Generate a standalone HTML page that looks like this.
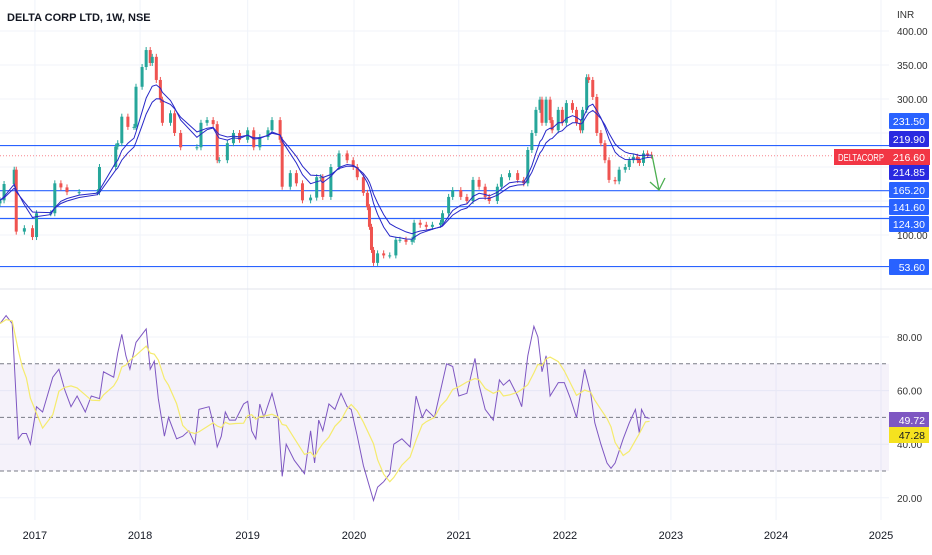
<!DOCTYPE html>
<html><head><meta charset="utf-8">
<style>
html,body{margin:0;padding:0;background:#fff;}
body{width:932px;height:550px;overflow:hidden;font-family:"Liberation Sans",sans-serif;}
svg text{font-family:"Liberation Sans",sans-serif;}
</style></head>
<body>
<svg id="chart" width="932" height="550" viewBox="0 0 932 550" xmlns="http://www.w3.org/2000/svg">
<g id="grid"></g>
<g id="levels"></g>
<g id="candles"></g>
<g id="mas"></g>
<g id="rsi"></g>
<g id="axis"></g>
<text x="7" y="21" font-size="11" font-weight="bold" fill="#131722">DELTA CORP LTD, 1W, NSE</text>
<text x="897" y="18" font-size="10" fill="#333">INR</text>
<g stroke="#4caf50" stroke-width="1.3" fill="none">
<path d="M652 155 L659 190 M650 182 L659 190 L665 178"/>
</g>
</svg>
<script>
// price data: week index and closes
const priceWeeks=[0,2,7,8,12,16,18,25,27,30,33,39,48,49,57,58,60,63,66,67,70,72,74,75,77,79,80,84,86,89,97,99,102,105,107,108,112,115,118,122,125,128,132,134,138,139,143,146,149,153,156,158,159,163,167,171,174,176,179,181,182,183,184,186,189,192,195,197,200,203,204,207,210,213,217,218,221,223,227,230,233,236,239,241,245,247,251,255,258,260,262,264,266,267,269,271,272,275,277,279,282,284,286,287,289,290,292,294,296,298,300,303,305,308,310,312,314,315,317,319,321];
const priceClose=[151,175,196,105,110,97,132,132,176,170,163,163,163,200,230,235,274,259,259,318,347,372,353,362,328,299,265,279,250,229,229,265,269,263,210,210,235,250,240,254,229,244,254,269,240,171,191,176,151,155,185,185,156,200,220,210,200,185,162,141,112,78,59,73,70,70,93,93,90,93,118,115,112,115,118,132,156,166,156,150,181,171,156,150,171,185,191,181,176,225,250,284,299,265,299,269,254,284,265,294,284,265,254,284,332,328,303,250,235,210,181,179,196,200,210,215,210,206,220,218,216.6];
const levelValues=[231.5,165.2,141.6,124.3,53.6];
const lastPrice=216.6;
const priceTicks=[400,350,300,100];
const priceGrid=[400,350,300,250,200,150,100,50];
const rsiWeeks=[0,3,6,9,11,13,15,18,21,26,29,32,35,38,42,45,49,51,56,58,60,62,64,67,72,74,76,78,81,83,87,90,93,96,98,103,105,107,109,111,113,116,120,122,124,126,128,130,134,137,139,141,145,150,153,155,157,159,162,165,168,171,173,176,179,184,186,189,192,194,198,202,205,208,210,214,217,220,223,226,230,234,236,239,243,246,248,251,255,257,260,263,265,267,269,271,275,278,281,284,288,291,293,296,299,301,303,307,310,313,315,316,318,320];
const rsiValues=[85,88,85,42,44,44,40,54,52,65,68,60,54,58,52,58,57,67,65,74,81,73,68,78,83,68,71,57,43,50,42,43,45,40,53,54,48,39,43,52,49,49,55,56,45,42,55,50,59,50,28,40,34,29,45,33,49,45,55,53,59,54,53,43,32,19,24,26,29,40,42,39,58,50,53,50,60,70,69,58,59,72,62,53,49,64,62,64,58,54,73,84,80,67,73,58,63,63,57,50,68,59,48,40,33,31,33,42,48,53,44,53,50,49.72];
const rsiTicks=[80,60,40,20];
const yearLabels=["2017","2018","2019","2020","2021","2022","2023","2024","2025"];
const yearWeeks=[17.2,69,122,174.4,226,278.3,330.5,382.3,434];

const NS="http://www.w3.org/2000/svg";
const PW=889;
const xS=w=>w*2.03;
const yP=v=>31+(400-v)*0.68;
const yR=v=>337+(80-v)*2.68;
function mk(tag,attrs,parent){const e=document.createElementNS(NS,tag);for(const k in attrs)e.setAttribute(k,attrs[k]);parent.appendChild(e);return e;}

const grid=document.getElementById('grid');
priceGrid.forEach(v=>{const l=mk('line',{x1:0,x2:PW,y1:yP(v),y2:yP(v),stroke:'#f0f3fa','stroke-width':1},grid);

});
[80,60,40,20].forEach(v=>{const l=mk('line',{x1:0,x2:PW,y1:yR(v),y2:yR(v),stroke:'#f0f3fa','stroke-width':1},grid);

});
yearWeeks.forEach(w=>{const l=mk('line',{x1:xS(w),x2:xS(w),y1:0,y2:520,stroke:'#f0f3fa','stroke-width':1},grid);

});
const sep=mk('line',{x1:0,x2:932,y1:289,y2:289,stroke:'#e0e3eb','stroke-width':1},grid);



const lev=document.getElementById('levels');
levelValues.forEach(v=>{const l=mk('line',{x1:0,x2:PW,y1:yP(v),y2:yP(v),stroke:'#2962ff','stroke-width':1.2},lev);

});
const lp=mk('line',{x1:0,x2:PW,y1:yP(lastPrice),y2:yP(lastPrice),stroke:'#f23645','stroke-width':1,'stroke-dasharray':'1 2',opacity:0.6},lev);



const cg=document.getElementById('candles');
for(let i=0;i<priceClose.length;i++){
 const c=priceClose[i],o=i>0?priceClose[i-1]:c*0.97;
 const up=c>=o,col=up?'#26a69a':'#ef5350';
 const x=xS(priceWeeks[i]);
 const yt=yP(Math.max(o,c)),yb=yP(Math.min(o,c));
 const w=mk('line',{x1:x,x2:x,y1:yt-3,y2:yb+3,stroke:col,'stroke-width':1},cg);
 
 
 const r=mk('rect',{x:x-1.5,y:yt,width:3,height:Math.max(1,yb-yt),fill:col},cg);
 
 
}
function ema(vals,weeks,period){const out=[];let e=vals[0];for(let i=0;i<vals.length;i++){if(i>0){const dt=weeks[i]-weeks[i-1];const a=1-Math.pow(1-2/(period+1),dt);e=e+a*(vals[i]-e);}out.push(e);}return out;}
const mg=document.getElementById('mas');
[16,24].forEach((p,k)=>{const m=ema(priceClose,priceWeeks,p);
 const d=m.map((v,i)=>(i?'L':'M')+xS(priceWeeks[i]).toFixed(1)+' '+yP(v).toFixed(1)).join(' ');
 const pa=mk('path',{d:d,fill:'none',stroke:'#2828c8','stroke-width':1},mg);
 
 });

const rg=document.getElementById('rsi');
const band=mk('rect',{x:0,y:yR(70),width:PW,height:yR(30)-yR(70),fill:'#7e57c2','fill-opacity':0.08},rg);


[70,50,30].forEach(v=>{const l=mk('line',{x1:0,x2:PW,y1:yR(v),y2:yR(v),stroke:'#787b86','stroke-width':1,'stroke-dasharray':'4 3'},rg);

});
const rd=rsiValues.map((v,i)=>(i?'L':'M')+xS(rsiWeeks[i]).toFixed(1)+' '+yR(v).toFixed(1)).join(' ');
const rl=mk('path',{d:rd,fill:'none',stroke:'#7e57c2','stroke-width':1},rg);


const sma=rsiValues.map((v,i)=>{let s=0,n=0;for(let j=0;j<=i;j++){if(rsiWeeks[i]-rsiWeeks[j]<14){s+=rsiValues[j];n++;}}return s/n;});
const sd=sma.map((v,i)=>(i?'L':'M')+xS(rsiWeeks[i]).toFixed(1)+' '+yR(v).toFixed(1)).join(' ');
const sl=mk('path',{d:sd,fill:'none',stroke:'#f5eb6e','stroke-width':1.2},rg);



const ax=document.getElementById('axis');
priceTicks.forEach(v=>{const t=mk('text',{x:897,y:yP(v)+4,'font-size':10,fill:'#333'},ax);t.textContent=v.toFixed(2);

});
rsiTicks.forEach(v=>{const t=mk('text',{x:897,y:yR(v)+4,'font-size':10,fill:'#333'},ax);t.textContent=v.toFixed(2);

});
yearLabels.forEach((s,i)=>{const t=mk('text',{x:xS(yearWeeks[i]),y:539,'font-size':11,fill:'#131722','text-anchor':'middle'},ax);t.textContent=s;

});
const boxes=[["231.50",121,'#2962ff'],["219.90",139,'#2a2ae0'],["214.85",172,'#2a2ae0'],["165.20",190,'#2962ff'],["141.60",207,'#2962ff'],["124.30",224,'#2962ff'],["53.60",267,'#2962ff']];
boxes.forEach(b=>{const r=mk('rect',{x:889,y:b[1]-8,width:40,height:16,fill:b[2],rx:1},ax);


const t=mk('text',{x:925,y:b[1]+4,'font-size':10.5,fill:'#fff','text-anchor':'end'},ax);t.textContent=b[0];

});
const lb=mk('rect',{x:834,y:149,width:96,height:16,fill:'#f23645'},ax);


const lt1=mk('text',{x:838,y:161,'font-size':10,fill:'#fff',textLength:46,lengthAdjust:'spacingAndGlyphs'},ax);lt1.textContent='DELTACORP';


const lt2=mk('text',{x:925,y:161,'font-size':10.5,fill:'#fff','text-anchor':'end'},ax);lt2.textContent='216.60';


[["49.72",420,'#7e57c2','#fff'],["47.28",435,'#f5e21f','#131722']].forEach(b=>{const r=mk('rect',{x:889,y:b[1]-8,width:40,height:16,fill:b[2]},ax);


const t=mk('text',{x:925,y:b[1]+4,'font-size':10.5,fill:b[3],'text-anchor':'end'},ax);t.textContent=b[0];

});
</script>
</body></html>
